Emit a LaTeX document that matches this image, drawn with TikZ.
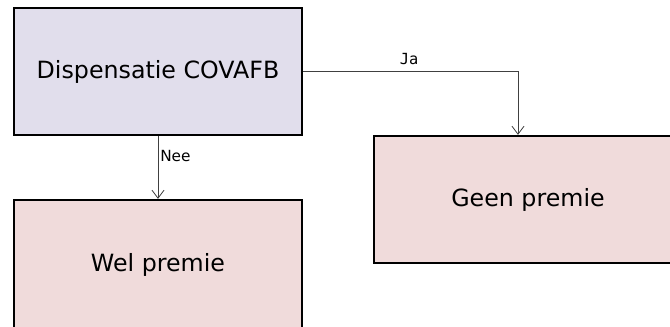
\documentclass[tikz,border=0pt]{standalone}
\usepackage{fontspec}
\setmainfont{DejaVu Sans}
\newfontfamily\monofont{DejaVu Sans Mono}
\usetikzlibrary{arrows.meta}
\definecolor{lav}{HTML}{E1DEEC}
\definecolor{rose}{HTML}{F0DBDB}
\tikzset{
  box/.style={draw=black, line width=1.7pt, minimum width=216pt, minimum height=95.25pt, inner sep=0pt, font=\fontsize{17.8}{20}\selectfont},
  conn/.style={draw=black!75, line width=0.7pt, -{Straight Barb[length=6pt,width=9pt,line width=0.6pt]}},
  lbl/.style={inner sep=0pt, font=\fontsize{11.5}{13}\selectfont}
}
\begin{document}
\begin{tikzpicture}[x=0.75pt,y=-0.75pt]
\clip (0,0) rectangle (670,327);
\fill[white] (0,0) rectangle (670,327);
\node[box, fill=lav] (d) at (158,71.5) {\raisebox{-1.5pt}{Dispensatie COVAFB}};
\node[box, fill=rose, minimum height=97.5pt] (w) at (158,265) {\raisebox{-1.5pt}{Wel premie}};
\node[box, fill=rose, minimum width=231pt] (g) at (528,199.5) {\raisebox{-3pt}{Geen premie}};
\coordinate (jx) at (518,0);
\draw[conn] (d.east) -| (g.north -| jx);
\draw[conn] (d.south) -- (w.north);
\node[lbl, font=\monofont\fontsize{11.5}{13}\selectfont] (ja) at (409,59) {Ja};
\node[lbl, anchor=west] (nee) at (160,156) {Nee};
\end{tikzpicture}
\end{document}
